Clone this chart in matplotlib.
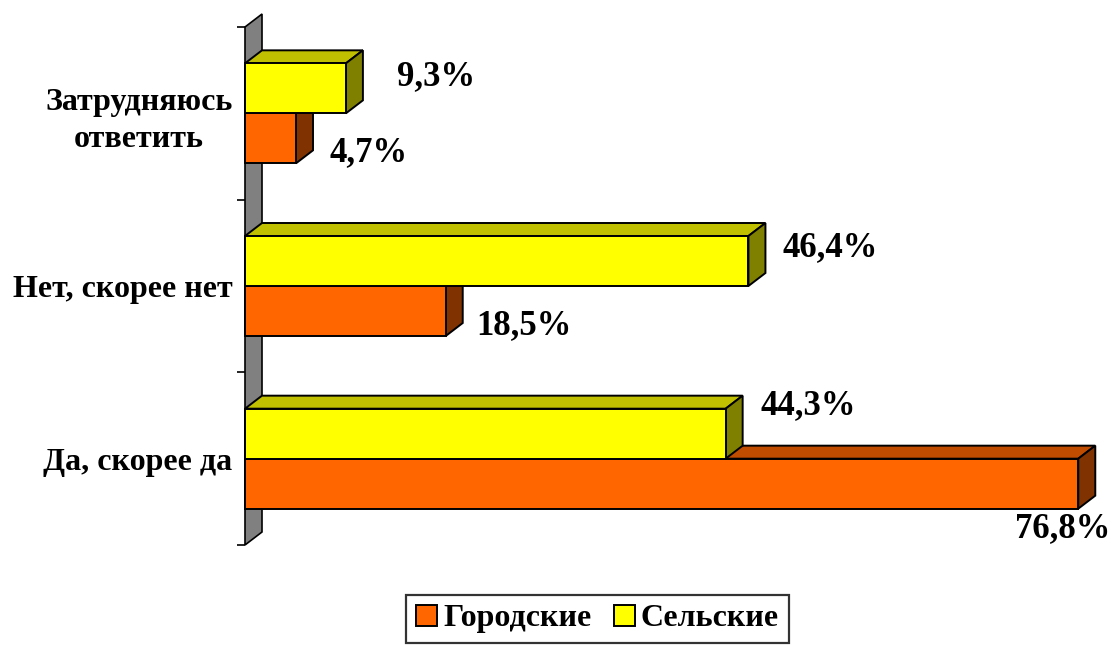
import numpy as np
import matplotlib
matplotlib.use('Agg')
from matplotlib import pyplot as plt
from matplotlib.patches import Polygon, Rectangle, Patch

categories = ['Да, скорее да', 'Нет, скорее нет', 'Затрудняюсь\nответить']
series_names = ['Городские', 'Сельские']
urban = [76.8, 18.5, 4.7]
rural = [44.3, 46.4, 9.3]
urban_labels = ['76,8%', '18,5%', '4,7%']
rural_labels = ['44,3%', '46,4%', '9,3%']

# face colours: front, top, side
c_urban = ('#FF6600', '#C04C00', '#803300')
c_rural = ('#FFFF00', '#C0C000', '#808000')

# label offsets in pixels from bar end / bar centre (x right, y down)
off_urban = [(-63, 45), (31, 14.5), (34, 14.5)]
off_rural = [(35, -28), (34, -13), (51, -11.5)]

plt.rcParams['font.family'] = ['Liberation Serif', 'DejaVu Serif']
plt.rcParams['font.weight'] = 'bold'

W, H = 1115, 645
fig = plt.figure(figsize=(W / 100, H / 100), dpi=100)
ax_left, ax_top, ax_bottom = 245, 27, 545
ax = fig.add_axes([ax_left / W, (H - ax_bottom) / H, (W - ax_left) / W, (ax_bottom - ax_top) / H])

px_per_x = 10.85
xmax = (W - ax_left) / px_per_x
ax.set_xlim(0, xmax)
ax.set_ylim(-0.5, 2.5)
px_per_y = (ax_bottom - ax_top) / 3.0

dx = 17 / px_per_x
dy = 13 / px_per_y
bh = 50 / px_per_y

for s in ax.spines.values():
    s.set_visible(False)
ax.set_xticks([])

# back wall
ax.add_patch(Polygon([(0, -0.5), (dx, -0.5 + dy), (dx, 2.5 + dy), (0, 2.5)],
                     closed=True, facecolor='#808080', edgecolor='black', lw=1.2,
                     clip_on=False, zorder=1))


def bar3d(y0, v, cols, z):
    front, top, side = cols
    ax.add_patch(Polygon([(0, y0 + bh), (dx, y0 + bh + dy), (v + dx, y0 + bh + dy), (v, y0 + bh)],
                         closed=True, facecolor=top, edgecolor='black', lw=1.4, clip_on=False, zorder=z))
    ax.add_patch(Polygon([(v, y0), (v + dx, y0 + dy), (v + dx, y0 + bh + dy), (v, y0 + bh)],
                         closed=True, facecolor=side, edgecolor='black', lw=1.4, clip_on=False, zorder=z))
    ax.add_patch(Rectangle((0, y0), v, bh, facecolor=front, edgecolor='black', lw=1.4,
                           clip_on=False, zorder=z))


for i in range(len(categories)):
    bar3d(i - bh, urban[i], c_urban, 2 + 2 * i)
    bar3d(i, rural[i], c_rural, 3 + 2 * i)
    ox, oy = off_urban[i]
    ax.annotate(urban_labels[i], xy=(urban[i], i - bh / 2), xytext=(ox * 0.72, -oy * 0.72),
                textcoords='offset points', ha='left', va='center', fontsize=25, fontweight='bold')
    ox, oy = off_rural[i]
    ax.annotate(rural_labels[i], xy=(rural[i], i + bh / 2), xytext=(ox * 0.72, -oy * 0.72),
                textcoords='offset points', ha='left', va='center', fontsize=25, fontweight='bold')

ax.set_yticks([-0.5, 0.5, 1.5, 2.5])
ax.set_yticklabels([])
ax.tick_params(axis='y', which='major', length=5.8, width=1.2, color='black')
ax.set_yticks(range(len(categories)), categories, minor=True)
ax.tick_params(axis='y', which='minor', length=0, pad=9)
for lab in ax.get_yticklabels(minor=True):
    lab.set_fontsize(23)
    lab.set_fontweight('bold')
    lab.set_multialignment('center')
    lab.set_linespacing(1.35)

handles = [Patch(facecolor=c_urban[0], edgecolor='black', lw=1.4),
           Patch(facecolor=c_rural[0], edgecolor='black', lw=1.4)]
leg = fig.legend(handles, series_names, loc='lower center', bbox_to_anchor=(597.5 / W, 2 / H),
                 ncol=2, frameon=True, fancybox=False, prop={'size': 23, 'weight': 'bold'},
                 handlelength=0.65, handleheight=0.65, handletextpad=0.2, columnspacing=0.7,
                 borderpad=0.3, borderaxespad=0)
leg.get_frame().set_edgecolor('black')
leg.get_frame().set_linewidth(1.6)

fig.savefig('out.png', dpi=100)
